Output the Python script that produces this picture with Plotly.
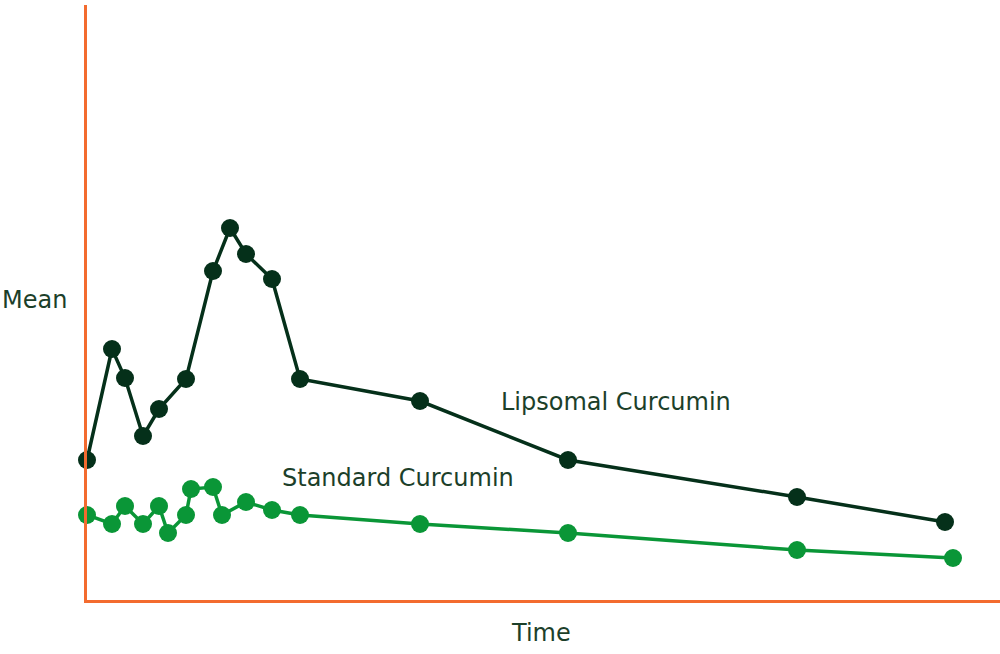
import plotly.graph_objects as go

# Time positions (arbitrary units) and mean values
lipo_time = [0, 25, 38, 56, 72, 99, 126, 143, 159, 185, 213, 333, 481, 710, 858]
lipo_mean = [140, 251, 222, 164, 191, 221, 329, 372, 346, 321, 221, 199, 140, 103, 78]

std_time = [0, 25, 38, 56, 72, 81, 99, 104, 126, 135, 159, 185, 213, 333, 481, 710, 866]
std_mean = [85, 76, 94, 76, 94, 67, 85, 111, 113, 85, 98, 90, 85, 76, 67, 50, 42]

series_names = ["Lipsomal Curcumin", "Standard Curcumin"]
axis_titles = ["Time", "Mean"]

DARK = "#05301a"
GREEN = "#0a9637"
ORANGE = "#f36b2f"
TEXT = "#1c3f2a"
FONT = "DejaVu Sans"

fig = go.Figure()
fig.add_trace(go.Scatter(
    x=std_time, y=std_mean, mode="lines+markers", name=series_names[1],
    line=dict(color=GREEN, width=3.5), marker=dict(color=GREEN, size=18),
    cliponaxis=False, hoverinfo="skip"))
fig.add_trace(go.Scatter(
    x=lipo_time, y=lipo_mean, mode="lines+markers", name=series_names[0],
    line=dict(color=DARK, width=3.5), marker=dict(color=DARK, size=18),
    cliponaxis=False, hoverinfo="skip"))

fig.update_layout(
    width=1000, height=654,
    margin=dict(l=87, r=0, t=5, b=54),
    paper_bgcolor="white", plot_bgcolor="white",
    showlegend=False,
    font=dict(family=FONT, color=TEXT, size=24),
    xaxis=dict(range=[0, 913], showgrid=False, zeroline=False, showticklabels=False,
               ticks="", showline=True, linecolor=ORANGE, linewidth=3),
    yaxis=dict(range=[0, 595], showgrid=False, zeroline=False, showticklabels=False,
               ticks="", showline=True, linecolor=ORANGE, linewidth=3),
    annotations=[
        dict(text=axis_titles[1], xref="paper", yref="paper", x=-87/913, y=(600-300)/595,
             xanchor="left", yanchor="middle", showarrow=False),
        dict(text=axis_titles[0], xref="paper", yref="paper", x=(541-87)/913, y=-(633-600)/595,
             xanchor="center", yanchor="middle", showarrow=False),
        dict(text=series_names[0], xref="x", yref="y", x=412, y=198,
             xanchor="left", yanchor="middle", showarrow=False),
        dict(text=series_names[1], xref="x", yref="y", x=193, y=122,
             xanchor="left", yanchor="middle", showarrow=False),
    ],
)

fig.write_html("out.html", config={"displayModeBar": False},
               post_script="document.body.style.margin='0';document.body.style.overflow='hidden';")
